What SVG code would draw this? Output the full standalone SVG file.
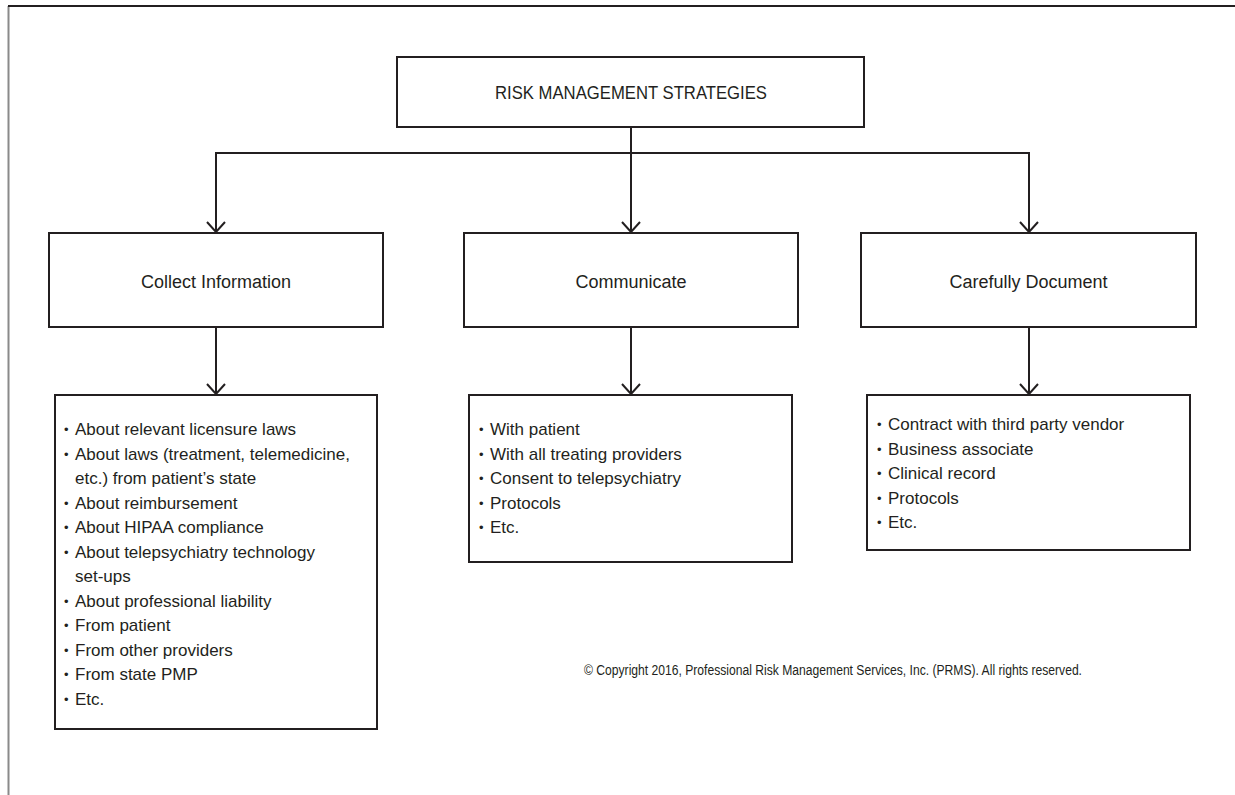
<svg xmlns="http://www.w3.org/2000/svg" width="1235" height="795" viewBox="0 0 1235 795">
<defs>
<style>
.box{fill:#fff;stroke:#231f20;stroke-width:2}
.ln{fill:none;stroke:#231f20;stroke-width:2}
.hd{font-family:"Liberation Sans",Arial,sans-serif;font-size:18px;fill:#231f20;text-anchor:middle}
.li{font-family:"Liberation Sans",Arial,sans-serif;font-size:17px;fill:#231f20}
.bu{font-family:"Liberation Sans",Arial,sans-serif;font-size:13px;fill:#231f20}
.cp{font-family:"Liberation Sans",Arial,sans-serif;font-size:14px;fill:#231f20}
</style>
<marker id="arr" viewBox="0 0 12 20" refX="11" refY="10" markerWidth="12" markerHeight="20" markerUnits="userSpaceOnUse" orient="auto">
<polyline points="1,1 11,10 1,19" fill="none" stroke="#231f20" stroke-width="2"/>
</marker>
</defs>
<rect width="1235" height="795" fill="#fff"/>
<g id="frame">
<line x1="8.5" y1="6" x2="8.5" y2="795" stroke="#8a8a8a" stroke-width="2"/>
<line x1="8" y1="6" x2="1235" y2="6" stroke="#231f20" stroke-width="2"/>
</g>
<g id="connectors">
<line class="ln" x1="631" y1="127" x2="631" y2="153"/>
<line class="ln" x1="215" y1="153" x2="1030" y2="153"/>
<path class="ln" d="M216,153 V232" marker-end="url(#arr)"/>
<path class="ln" d="M631,153 V232" marker-end="url(#arr)"/>
<path class="ln" d="M1029,153 V232" marker-end="url(#arr)"/>
<path class="ln" d="M216,327 V394" marker-end="url(#arr)"/>
<path class="ln" d="M631,327 V394" marker-end="url(#arr)"/>
<path class="ln" d="M1029,327 V394" marker-end="url(#arr)"/>
</g>
<g id="root">
<rect class="box" x="397" y="57" width="467" height="70"/>
<text class="hd" x="631" y="99" textLength="272" lengthAdjust="spacingAndGlyphs">RISK MANAGEMENT STRATEGIES</text>
</g>
<g id="collect">
<rect class="box" x="49" y="233" width="334" height="94"/>
<text class="hd" x="216" y="288">Collect Information</text>
</g>
<g id="communicate">
<rect class="box" x="464" y="233" width="334" height="94"/>
<text class="hd" x="631" y="288">Communicate</text>
</g>
<g id="document">
<rect class="box" x="861" y="233" width="335" height="94"/>
<text class="hd" x="1028.5" y="288">Carefully Document</text>
</g>
<g id="collect-list">
<rect class="box" x="55" y="395" width="322" height="334"/>
<g class="bu">
<text x="64" y="434">•</text>
<text x="64" y="458.5">•</text>
<text x="64" y="507.5">•</text>
<text x="64" y="532">•</text>
<text x="64" y="556.5">•</text>
<text x="64" y="605.5">•</text>
<text x="64" y="630">•</text>
<text x="64" y="654.5">•</text>
<text x="64" y="679">•</text>
<text x="64" y="703.5">•</text>
</g>
<g class="li">
<text x="75" y="435">About relevant licensure laws</text>
<text x="75" y="459.5">About laws (treatment, telemedicine,</text>
<text x="75" y="484">etc.) from patient’s state</text>
<text x="75" y="508.5">About reimbursement</text>
<text x="75" y="533">About HIPAA compliance</text>
<text x="75" y="557.5">About telepsychiatry technology</text>
<text x="75" y="582">set-ups</text>
<text x="75" y="606.5">About professional liability</text>
<text x="75" y="631">From patient</text>
<text x="75" y="655.5">From other providers</text>
<text x="75" y="680">From state PMP</text>
<text x="75" y="704.5">Etc.</text>
</g>
</g>
<g id="communicate-list">
<rect class="box" x="469" y="395" width="323" height="167"/>
<g class="bu">
<text x="479" y="434">•</text>
<text x="479" y="458.5">•</text>
<text x="479" y="483">•</text>
<text x="479" y="507.5">•</text>
<text x="479" y="532">•</text>
</g>
<g class="li">
<text x="490" y="435">With patient</text>
<text x="490" y="459.5">With all treating providers</text>
<text x="490" y="484">Consent to telepsychiatry</text>
<text x="490" y="508.5">Protocols</text>
<text x="490" y="533">Etc.</text>
</g>
</g>
<g id="document-list">
<rect class="box" x="867" y="395" width="323" height="155"/>
<g class="bu">
<text x="877" y="429">•</text>
<text x="877" y="453.5">•</text>
<text x="877" y="478">•</text>
<text x="877" y="502.5">•</text>
<text x="877" y="527">•</text>
</g>
<g class="li">
<text x="888" y="430">Contract with third party vendor</text>
<text x="888" y="454.5">Business associate</text>
<text x="888" y="479">Clinical record</text>
<text x="888" y="503.5">Protocols</text>
<text x="888" y="528">Etc.</text>
</g>
</g>
<text class="cp" x="584" y="675" textLength="498" lengthAdjust="spacingAndGlyphs">© Copyright 2016, Professional Risk Management Services, Inc. (PRMS).  All rights reserved.</text>
</svg>
